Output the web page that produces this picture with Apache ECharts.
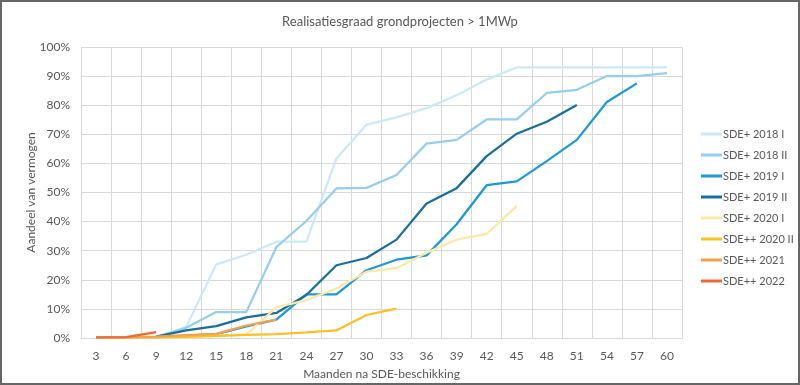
<!DOCTYPE html>
<html>
<head>
<meta charset="utf-8">
<script src="https://cdn.jsdelivr.net/npm/echarts@6/dist/echarts.min.js"></script>
<style>
html,body{margin:0;padding:0;background:#fff;}
#c{width:800px;height:385px;}
</style>
</head>
<body>
<div id="c"></div>
<script>
var months = ['3','6','9','12','15','18','21','24','27','30','33','36','39','42','45','48','51','54','57','60'];
var yTicks = [0,10,20,30,40,50,60,70,80,90,100];
var seriesNames = ['SDE+ 2018 I','SDE+ 2018 II','SDE+ 2019 I','SDE+ 2019 II','SDE+ 2020 I','SDE++ 2020 II','SDE++ 2021','SDE++ 2022'];
var sde2018I  = [null, null, 0.3, 3.8, 25.3, 28.6, 33.1, 33.1, 61.7, 73.3, 75.8, 79.0, 83.4, 88.8, 93.0, 93.0, 93.0, 93.0, 93.0, 93.0];
var sde2018II = [null, null, 0.3, 3.5, 8.9, 8.9, 31.2, 40.2, 51.4, 51.6, 56.0, 66.8, 68.1, 75.1, 75.1, 84.2, 85.3, 90.0, 90.0, 91.0];
var sde2019I  = [null, null, 0.2, 0.8, 1.3, 4.0, 6.3, 15.0, 15.0, 23.3, 26.9, 28.4, 39.1, 52.5, 53.8, 60.8, 68.1, 81.1, 87.5, null];
var sde2019II = [null, null, 0.5, 2.6, 4.1, 7.1, 8.6, 14.8, 25.0, 27.5, 33.8, 46.2, 51.5, 62.5, 70.2, 74.3, 80.1, null, null, null];
var sde2020I  = [null, null, 0.1, 0.3, 0.7, 1.2, 10.5, 13.0, 17.0, 22.8, 24.0, 29.3, 33.8, 35.8, 45.3, null, null, null, null, null];
var sde2020II = [0.0, 0.1, 0.2, 0.4, 0.7, 1.1, 1.3, 1.9, 2.6, 7.9, 10.1, null, null, null, null, null, null, null, null, null];
var sde2021   = [0.2, 0.3, 0.5, 1.0, 1.4, 4.3, 6.3, null, null, null, null, null, null, null, null, null, null, null, null, null];
var sde2022   = [0.2, 0.3, 2.0, null, null, null, null, null, null, null, null, null, null, null, null, null, null, null, null, null];
var seriesData = [sde2018I, sde2018II, sde2019I, sde2019II, sde2020I, sde2020II, sde2021, sde2022];
var colors = ['#cde8f7','#94cfef','#1a9ad6','#176f9f','#fde8a6','#fdbf24','#f4a248','#ec6a35'];

var font = 'Lato, "Open Sans", sans-serif';
var chart = echarts.init(document.getElementById('c'), null, {renderer:'canvas'});
var option = {
  animation: false,
  color: colors,
  title: {
    text: 'Realisatiesgraad grondprojecten > 1MWp',
    left: 'center', top: 10,
    textStyle: {color:'#595959', fontSize:13, fontWeight:'normal', fontFamily:font}
  },
  legend: {
    orient: 'vertical',
    left: 696, top: 122,
    itemWidth: 21, itemHeight: 3, itemGap: 7,
    icon: 'rect',
    data: seriesNames,
    textStyle: {color:'#595959', fontSize:11, fontFamily:font, lineHeight:14, padding:[0,0,0,-4]}
  },
  grid: {left:81, right:118, top:47, bottom:43, containLabel:false},
  xAxis: {
    type: 'category',
    data: months,
    boundaryGap: true,
    name: 'Maanden na SDE-beschikking',
    nameLocation: 'middle',
    nameGap: 30,
    nameMoveOverlap: false,
    nameTextStyle: {color:'#595959', fontSize:12, fontFamily:font},
    axisLine: {show:true, lineStyle:{color:'#d9d9d9', width:1}},
    axisTick: {show:false},
    axisLabel: {color:'#595959', fontSize:12, fontFamily:font, margin:12, interval:0},
    splitLine: {show:true, interval:0, lineStyle:{color:'#d9d9d9', width:1}}
  },
  yAxis: {
    type: 'value',
    min: yTicks[0], max: yTicks[yTicks.length-1], interval: 10,
    name: 'Aandeel van vermogen',
    nameLocation: 'middle',
    nameGap: 44,
    nameMoveOverlap: false,
    nameTextStyle: {color:'#595959', fontSize:12, fontFamily:font},
    axisLine: {show:false},
    axisTick: {show:false},
    axisLabel: {color:'#595959', fontSize:12, fontFamily:font, margin:11, formatter:'{value}%'},
    splitLine: {show:true, lineStyle:{color:'#d9d9d9', width:1}}
  },
  series: seriesNames.map(function(n, i){
    return {
      name: n, type: 'line', data: seriesData[i],
      symbol: 'none', showSymbol: false,
      lineStyle: {width: 2.25, color: colors[i]},
      itemStyle: {color: colors[i]},
      connectNulls: false
    };
  }),
  graphic: [{
    type: 'rect', silent: true, z: 100,
    shape: {x:1, y:1, width:798, height:383},
    style: {fill:'none', stroke:'#666666', lineWidth:2}
  }]
};
chart.setOption(option);
</script>
</body>
</html>
